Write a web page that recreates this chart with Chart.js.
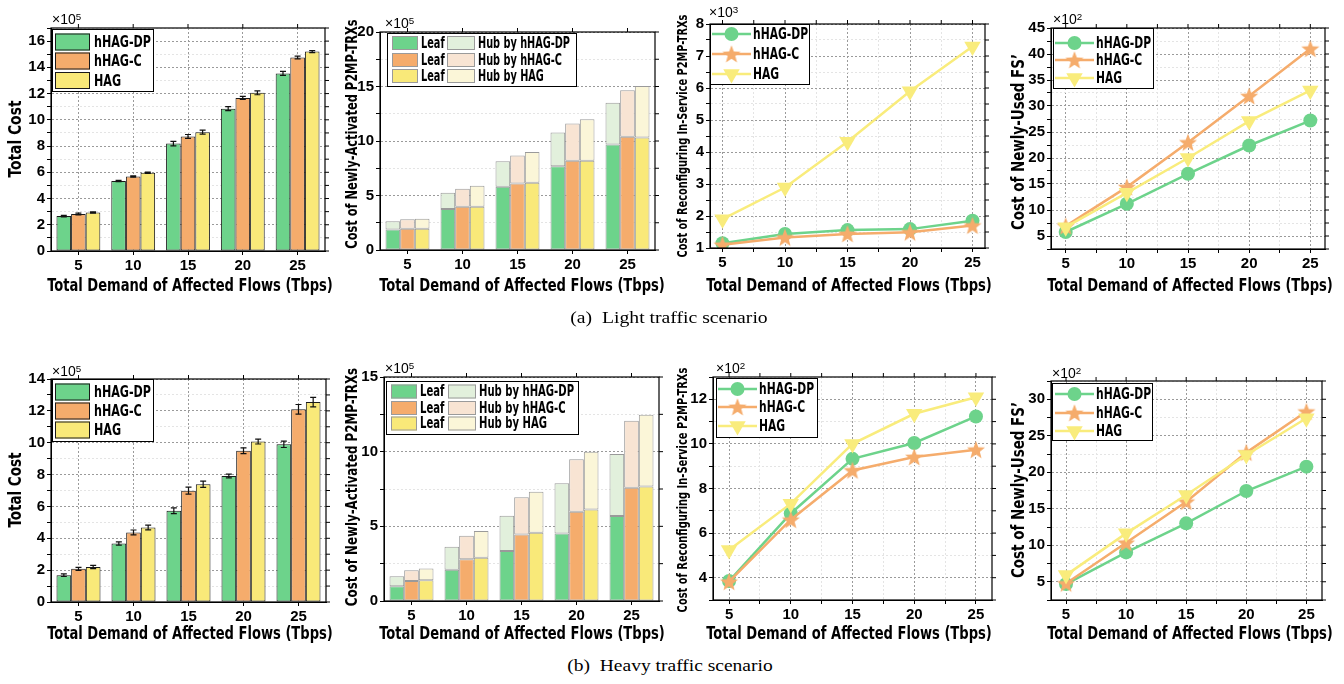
<!DOCTYPE html>
<html>
<head>
<meta charset="utf-8">
<script src="https://cdn.jsdelivr.net/npm/chart.js@4.4.1/dist/chart.umd.min.js"></script>
<style>
  body { margin: 0; background: #fff; width: 1344px; height: 684px; position: relative; overflow: hidden; }
  canvas { position: absolute; }
  .lbl { position: absolute; white-space: nowrap; color: #000; line-height: 1; }
  .lbl sup { font-size: 70%; vertical-align: 0.45em; }
</style>
</head>
<body>
<script>
// ---- data (in units of the axis multiplier) ----
const flows = [5, 10, 15, 20, 25];
const seriesNames = ['hHAG-DP', 'hHAG-C', 'HAG'];

// (a) light traffic
const lightTotalDP = [2.66, 5.33, 8.19, 10.85, 13.54];
const lightTotalC = [2.82, 5.68, 8.73, 11.67, 14.75];
const lightTotalHAG = [2.94, 5.97, 9.06, 12.06, 15.2];
const lightErrDP = [0.06, 0.05, 0.17, 0.15, 0.15];
const lightErrC = [0.06, 0.05, 0.15, 0.12, 0.1];
const lightErrHAG = [0.05, 0.05, 0.15, 0.15, 0.08];
const lightLeafDP = [1.89, 3.76, 5.8, 7.69, 9.68];
const lightHubDP = [0.74, 1.49, 2.35, 3.09, 3.82];
const lightLeafC = [1.95, 3.97, 6.1, 8.18, 10.38];
const lightHubC = [0.86, 1.65, 2.57, 3.42, 4.28];
const lightLeafHAG = [1.95, 3.97, 6.17, 8.18, 10.32];
const lightHubHAG = [0.92, 1.92, 2.83, 3.82, 4.73];
const lightReconfDP = [1.15, 1.44, 1.56, 1.59, 1.85];
const lightReconfC = [1.1, 1.33, 1.44, 1.49, 1.7];
const lightReconfHAG = [1.9, 2.89, 4.32, 5.9, 7.3];
const lightFsDP = [5.77, 11.2, 16.97, 22.4, 27.2];
const lightFsC = [6.9, 14.4, 23.0, 31.9, 41.0];
const lightFsHAG = [6.7, 13.3, 20.0, 27.1, 33.0];

// (b) heavy traffic
const heavyTotalDP = [1.68, 3.67, 5.73, 7.91, 9.9];
const heavyTotalC = [2.08, 4.37, 6.99, 9.5, 12.1];
const heavyTotalHAG = [2.2, 4.68, 7.39, 10.07, 12.55];
const heavyErrDP = [0.08, 0.1, 0.18, 0.12, 0.2];
const heavyErrC = [0.1, 0.15, 0.22, 0.18, 0.3];
const heavyErrHAG = [0.1, 0.15, 0.2, 0.15, 0.3];
const heavyLeafDP = [0.98, 2.1, 3.34, 4.52, 5.69];
const heavyHubDP = [0.68, 1.53, 2.37, 3.36, 4.16];
const heavyLeafC = [1.34, 2.8, 4.45, 5.98, 7.59];
const heavyHubC = [0.72, 1.57, 2.49, 3.51, 4.48];
const heavyLeafHAG = [1.39, 2.89, 4.57, 6.13, 7.66];
const heavyHubHAG = [0.78, 1.79, 2.75, 3.87, 4.81];
const heavyReconfDP = [3.85, 6.88, 9.33, 10.04, 11.23];
const heavyReconfC = [3.82, 6.6, 8.81, 9.41, 9.74];
const heavyReconfHAG = [5.24, 7.32, 10.0, 11.35, 12.09];
const heavyFsDP = [4.68, 9.02, 13.0, 17.43, 20.77];
const heavyFsC = [4.77, 10.35, 15.97, 22.69, 28.31];
const heavyFsHAG = [5.91, 11.63, 16.88, 22.37, 27.4];

// labelled y ticks
const lightCostTicks = [0, 2, 4, 6, 8, 10, 12, 14, 16];
const lightTrxTicks = [0, 5, 10, 15, 20];
const lightReconfTicks = [1, 2, 3, 4, 5, 6, 7, 8];
const lightFsTicks = [5, 10, 15, 20, 25, 30, 35, 40, 45];
const heavyCostTicks = [0, 2, 4, 6, 8, 10, 12, 14];
const heavyTrxTicks = [0, 5, 10, 15];
const heavyReconfTicks = [4, 6, 8, 10, 12];
const heavyFsTicks = [5, 10, 15, 20, 25, 30];

// ---- styling ----
const GREEN = '#6dd38b', ORANGE = '#f5ac6c', YELLOW = '#f9e979';
const HUB = ['#e2f0dc', '#f8e4d3', '#fbf6d8'];
const BAR_COLORS = [GREEN, ORANGE, YELLOW];
const LINE_COLORS = [GREEN, ORANGE, '#f9ec7c'];
const NARROW = "'Liberation Sans Narrow', 'DejaVu Sans Condensed', 'Liberation Sans', sans-serif";
const TICK_FONT = { family: "'Liberation Sans', sans-serif", size: 15, weight: 'bold' };
const PAD = { l: 46, t: 12, r: 10, b: 26 };

Chart.defaults.color = '#000';

function starImage(color) {
  const c = document.createElement('canvas');
  c.width = 20; c.height = 20;
  const g = c.getContext('2d');
  g.fillStyle = color;
  g.beginPath();
  for (let i = 0; i < 10; i++) {
    const r = i % 2 ? 4 : 9.5;
    const a = -Math.PI / 2 + i * Math.PI / 5;
    g.lineTo(10 + r * Math.cos(a), 10.8 + r * Math.sin(a));
  }
  g.closePath();
  g.fill();
  return c;
}
const POINT_STYLES = ['circle', starImage(ORANGE), 'triangle'];
const POINT_RADII = [7, 9, 9.5];
const POINT_ROT = [0, 0, 180];

// ---- plugins ----
const framePlugin = {
  id: 'frame',
  afterDraw(chart) {
    const { ctx, chartArea: a, scales } = chart;
    ctx.save();
    ctx.strokeStyle = '#000';
    ctx.lineWidth = 1.2;
    ctx.strokeRect(a.left, a.top, a.right - a.left, a.bottom - a.top);
    ctx.lineWidth = 1;
    ctx.beginPath();
    scales.y.ticks.forEach((t, i) => {
      const p = scales.y.getPixelForTick(i);
      ctx.moveTo(a.right, p); ctx.lineTo(a.right + 4, p);
    });
    scales.x.ticks.forEach((t, i) => {
      const p = scales.x.getPixelForTick(i);
      ctx.moveTo(p, a.top); ctx.lineTo(p, a.top - 4);
    });
    ctx.stroke();
    ctx.restore();
  }
};

const errorBarPlugin = {
  id: 'errorBars',
  afterDatasetsDraw(chart, args, opts) {
    if (!opts.errors) return;
    const { ctx, scales: { y } } = chart;
    ctx.save();
    ctx.strokeStyle = '#111';
    ctx.lineWidth = 1.2;
    opts.errors.forEach((errs, di) => {
      const meta = chart.getDatasetMeta(di);
      meta.data.forEach((bar, i) => {
        const v = chart.data.datasets[di].data[i];
        const top = y.getPixelForValue(v + errs[i]);
        const bot = y.getPixelForValue(v - errs[i]);
        ctx.beginPath();
        ctx.moveTo(bar.x, top); ctx.lineTo(bar.x, bot);
        ctx.moveTo(bar.x - 3, top); ctx.lineTo(bar.x + 3, top);
        ctx.moveTo(bar.x - 3, bot); ctx.lineTo(bar.x + 3, bot);
        ctx.stroke();
      });
    });
    ctx.restore();
  }
};

// framed legend inside the plot; text is squeezed by one common factor so it fits
const boxLegendPlugin = {
  id: 'boxLegend',
  afterDraw(chart, args, o) {
    if (!o.rows) return;
    const { ctx, chartArea: a } = chart;
    const ds = chart.data.datasets;
    ctx.save();
    ctx.fillStyle = '#fff';
    ctx.fillRect(a.left + o.x, a.top + o.y, o.w, o.h);
    ctx.strokeStyle = '#000';
    ctx.lineWidth = 1;
    ctx.strokeRect(a.left + o.x + 0.5, a.top + o.y + 0.5, o.w, o.h);
    ctx.font = o.font;
    ctx.textBaseline = 'middle';
    let k = 1;
    o.rows.forEach((ry, r) => o.cols.forEach((col, c) => {
      const w = ctx.measureText(ds[r * o.cols.length + c].label).width;
      k = Math.min(k, col.tw / w);
    }));
    o.rows.forEach((ry, r) => {
      const y = a.top + ry;
      o.cols.forEach((col, c) => {
        const d = ds[r * o.cols.length + c];
        const x = a.left + col.x;
        if (o.kind === 'line') {
          ctx.strokeStyle = d.borderColor;
          ctx.lineWidth = d.borderWidth;
          ctx.beginPath(); ctx.moveTo(x, y); ctx.lineTo(x + col.w, y); ctx.stroke();
          ctx.fillStyle = d.backgroundColor;
          Chart.helpers.drawPoint(ctx, { pointStyle: d.pointStyle, radius: d.pointRadius, rotation: d.pointRotation, borderWidth: 0 }, x + col.w / 2, y);
        } else {
          ctx.fillStyle = d.backgroundColor;
          ctx.fillRect(x, y - o.sh / 2, col.w, o.sh);
          ctx.strokeStyle = d.borderColor;
          ctx.lineWidth = 1;
          ctx.strokeRect(x + 0.5, y - o.sh / 2 + 0.5, col.w - 1, o.sh - 1);
        }
        ctx.save();
        ctx.translate(x + col.w + col.gap, y + 1);
        ctx.scale(k, 1);
        ctx.fillStyle = '#000';
        ctx.fillText(d.label, 0, 0);
        ctx.restore();
      });
    });
    ctx.restore();
  }
};

Chart.register(framePlugin, errorBarPlugin, boxLegendPlugin);

// ---- helpers ----
function mountCanvas(plot) {
  const [l, t, r, b] = plot;
  const cv = document.createElement('canvas');
  cv.width = r - l + PAD.l + PAD.r;
  cv.height = b - t + PAD.t + PAD.b;
  cv.style.left = (l - PAD.l) + 'px';
  cv.style.top = (t - PAD.t) + 'px';
  cv.style.width = cv.width + 'px';
  cv.style.height = cv.height + 'px';
  document.body.appendChild(cv);
  return cv;
}

function tickList(first, last, step) {
  const out = [];
  for (let v = first; v <= last + 1e-9; v += step) out.push(+v.toFixed(4));
  return out;
}

function yAxis(min, max, step, labels, stacked) {
  const vals = tickList(min, max, step);
  return {
    type: 'linear', min, max, stacked: !!stacked,
    afterBuildTicks: s => { s.ticks = vals.map(value => ({ value })); },
    afterFit: s => { s.width = PAD.l; },
    ticks: { autoSkip: false, padding: 2, font: TICK_FONT, color: '#000',
      callback: v => labels.includes(v) ? String(v) : '' },
    grid: { color: c => (c.tick && labels.includes(c.tick.value)) ? '#9a9a9a' : '#e4e4e4',
      tickColor: '#000', tickLength: 4 },
    border: { color: '#000', width: 1, dash: [2, 2] }
  };
}

function catAxis(showGrid, stacked) {
  return {
    type: 'category', offset: true, stacked: !!stacked,
    afterFit: s => { s.height = PAD.b; },
    ticks: { font: TICK_FONT, color: '#000', padding: 2, maxRotation: 0, autoSkip: false },
    grid: { offset: false, drawOnChartArea: showGrid, color: '#9a9a9a', tickColor: '#000', tickLength: 4 },
    border: { color: '#000', dash: [2, 2] }
  };
}

function numAxis(min, max) {
  const vals = tickList(flows[0], flows[flows.length - 1], (flows[1] - flows[0]) / 2);
  return {
    type: 'linear', min, max,
    afterBuildTicks: s => { s.ticks = vals.map(value => ({ value })); },
    afterFit: s => { s.height = PAD.b; },
    ticks: { autoSkip: false, padding: 2, font: TICK_FONT, color: '#000', maxRotation: 0,
      callback: v => flows.includes(v) ? String(v) : '' },
    grid: { color: c => (c.tick && flows.includes(c.tick.value)) ? '#9a9a9a' : '#e4e4e4',
      tickColor: '#000', tickLength: 4 },
    border: { color: '#000', dash: [2, 2] }
  };
}

function options(scales, plugins) {
  return {
    responsive: false, animation: false, events: [],
    layout: { autoPadding: false, padding: { left: 0, top: PAD.t, right: PAD.r, bottom: 0 } },
    scales,
    plugins: Object.assign({ legend: { display: false }, tooltip: { enabled: false } }, plugins)
  };
}

function totalCostChart(plot, values, errors, y, legend) {
  new Chart(mountCanvas(plot), {
    type: 'bar',
    data: {
      labels: flows,
      datasets: values.map((d, i) => ({
        label: seriesNames[i], data: d, backgroundColor: BAR_COLORS[i],
        borderColor: '#1a1a1a', borderWidth: 1, borderSkipped: false,
        categoryPercentage: 0.8, barPercentage: 1
      }))
    },
    options: options({ x: catAxis(true), y }, { errorBars: { errors }, boxLegend: legend })
  });
}

function stackedChart(plot, leaves, hubs, y, legend) {
  const datasets = [];
  leaves.forEach((leaf, i) => {
    datasets.push({ label: 'Leaf', data: leaf, stack: 's' + i, backgroundColor: BAR_COLORS[i],
      borderColor: '#9a9a9a', borderWidth: 1, borderSkipped: false, categoryPercentage: 0.8, barPercentage: 1 });
    datasets.push({ label: 'Hub by ' + seriesNames[i], data: hubs[i], stack: 's' + i, backgroundColor: HUB[i],
      borderColor: '#9a9a9a', borderWidth: 1, borderSkipped: false, categoryPercentage: 0.8, barPercentage: 1 });
  });
  new Chart(mountCanvas(plot), {
    type: 'bar',
    data: { labels: flows, datasets },
    options: options({ x: catAxis(false, true), y }, { boxLegend: legend })
  });
}

function lineChart(plot, values, xMin, xMax, y, legend) {
  new Chart(mountCanvas(plot), {
    type: 'line',
    data: {
      datasets: values.map((d, i) => ({
        label: seriesNames[i],
        data: flows.map((x, j) => ({ x, y: d[j] })),
        borderColor: LINE_COLORS[i], backgroundColor: LINE_COLORS[i], borderWidth: 2.5,
        pointStyle: POINT_STYLES[i], pointRadius: POINT_RADII[i], pointRotation: POINT_ROT[i],
        pointBorderWidth: 0, order: 2 - i, tension: 0
      }))
    },
    options: options({ x: numAxis(xMin, xMax), y }, { boxLegend: legend })
  });
}

function text(html, x, y, o) {
  const el = document.createElement('div');
  el.className = 'lbl';
  el.innerHTML = html;
  el.style.font = o.font;
  el.style.left = x + 'px';
  el.style.top = y + 'px';
  document.body.appendChild(el);
  const k = o.width ? o.width / el.offsetWidth : 1;
  const shift = o.left ? 'translate(0,-50%)' : 'translate(-50%,-50%)';
  el.style.transform = shift + (o.rot ? ' rotate(-90deg)' : '') + ' scaleX(' + k + ')';
}

// ---- legends (positions relative to the plot area) ----
const barLegend = (dy, rows) => ({ kind: 'box', font: 'bold 16px ' + NARROW, x: 1, y: dy, w: 101, h: 62, rows, sh: 17,
  cols: [{ x: 4, w: 35, gap: 4, tw: 57 }] });
const lineLegend = (dx, dy, w, h, rows, sx) => ({ kind: 'line', font: 'bold 16px ' + NARROW, x: dx, y: dy, w, h, rows,
  cols: [{ x: sx, w: 39, gap: 2, tw: 55 }] });
const stackLegend = (dx, dy, w, rows, c1, c2, tw2) => ({ kind: 'box', font: 'bold 15px ' + NARROW, x: dx, y: dy, w, h: 53, rows, sh: 14,
  cols: [{ x: c1, w: 26, gap: 3, tw: 25 }, { x: c2, w: 28, gap: 3, tw: tw2 }] });

// ---- (a) light traffic ----
totalCostChart([51, 28, 325, 251], [lightTotalDP, lightTotalC, lightTotalHAG],
  [lightErrDP, lightErrC, lightErrHAG], yAxis(0, 17, 1, lightCostTicks), barLegend(1, [14, 33, 52.5]));
stackedChart([380, 32, 655, 250], [lightLeafDP, lightLeafC, lightLeafHAG], [lightHubDP, lightHubC, lightHubHAG],
  yAxis(0, 20, 2.5, lightTrxTicks, true), stackLegend(7, 1, 189, [11, 28, 44], 12, 67, 92));
lineChart([710, 24, 985, 248], [lightReconfDP, lightReconfC, lightReconfHAG], 4, 26,
  yAxis(1, 8, 0.5, lightReconfTicks), lineLegend(0, 0, 99, 60, [10, 30, 50], 2));
lineChart([1051, 28, 1325, 249], [lightFsDP, lightFsC, lightFsHAG], 3.8, 26.2,
  yAxis(2.5, 45, 2.5, lightFsTicks), lineLegend(2, 0, 100, 60, [15, 32, 50], 4));

// ---- (b) heavy traffic ----
totalCostChart([51, 379, 326, 602], [heavyTotalDP, heavyTotalC, heavyTotalHAG],
  [heavyErrDP, heavyErrC, heavyErrHAG], yAxis(0, 14, 1, heavyCostTicks), barLegend(0, [13, 32, 51]));
stackedChart([384, 377, 659, 601], [heavyLeafDP, heavyLeafC, heavyLeafHAG], [heavyHubDP, heavyHubC, heavyHubHAG],
  yAxis(0, 15, 2.5, heavyTrxTicks, true), stackLegend(2, 4, 192, [14.5, 31, 46.5], 7, 64, 95));
lineChart([713, 377, 992, 600], [heavyReconfDP, heavyReconfC, heavyReconfHAG], 3.7, 26.3,
  yAxis(3, 13, 1, heavyReconfTicks), lineLegend(3, 1, 101, 59, [12, 30, 49], 5));
lineChart([1051, 381, 1322, 600], [heavyFsDP, heavyFsC, heavyFsHAG], 3.75, 26.3,
  yAxis(2.5, 32.5, 2.5, heavyFsTicks), lineLegend(1, 2, 100, 57, [13, 32, 50], 4));

// ---- axis titles, multipliers, captions ----
const XT = 'Total Demand of Affected Flows (Tbps)';
const TITLE = 'bold 17px ' + NARROW;
[[190, 285], [522, 285], [849, 285], [1190, 285], [190, 633], [522, 633], [849, 633], [1190, 633]]
  .forEach(([x, y]) => text(XT, x, y, { font: TITLE, width: 286 }));

text('Total Cost', 15, 139, { font: TITLE, rot: true, width: 77 });
text('Cost of Newly-Activated P2MP-TRXs', 352, 134, { font: 'bold 15px ' + NARROW, rot: true, width: 229 });
text('Cost of Reconfiguring In-Service P2MP-TRXs', 682, 136, { font: 'bold 14px ' + NARROW, rot: true, width: 243 });
text('Cost of Newly-Used FS\u2019', 1018, 142, { font: TITLE, rot: true, width: 176 });
text('Total Cost', 15, 490, { font: TITLE, rot: true, width: 75 });
text('Cost of Newly-Activated P2MP-TRXs', 352, 487, { font: 'bold 15px ' + NARROW, rot: true, width: 238 });
text('Cost of Reconfiguring In-Service P2MP-TRXs', 682, 490, { font: 'bold 14px ' + NARROW, rot: true, width: 245 });
text('Cost of Newly-Used FS\u2019', 1018, 490, { font: TITLE, rot: true, width: 176 });

const EXP = '14px ' + "'Liberation Sans', sans-serif";
[['5', 52, 19], ['5', 385, 23], ['3', 709, 12], ['2', 1053, 19],
 ['5', 52, 371], ['5', 385, 368], ['2', 716, 368], ['2', 1052, 373]]
  .forEach(([p, x, y]) => text('\u00d710<sup>' + p + '</sup>', x, y, { font: EXP, left: true }));

text('(a)&nbsp;&nbsp;Light traffic scenario', 669, 318, { font: "16px 'Liberation Serif', serif", width: 198 });
text('(b)&nbsp;&nbsp;Heavy traffic scenario', 670, 666, { font: "16px 'Liberation Serif', serif", width: 206 });
</script>
</body>
</html>
